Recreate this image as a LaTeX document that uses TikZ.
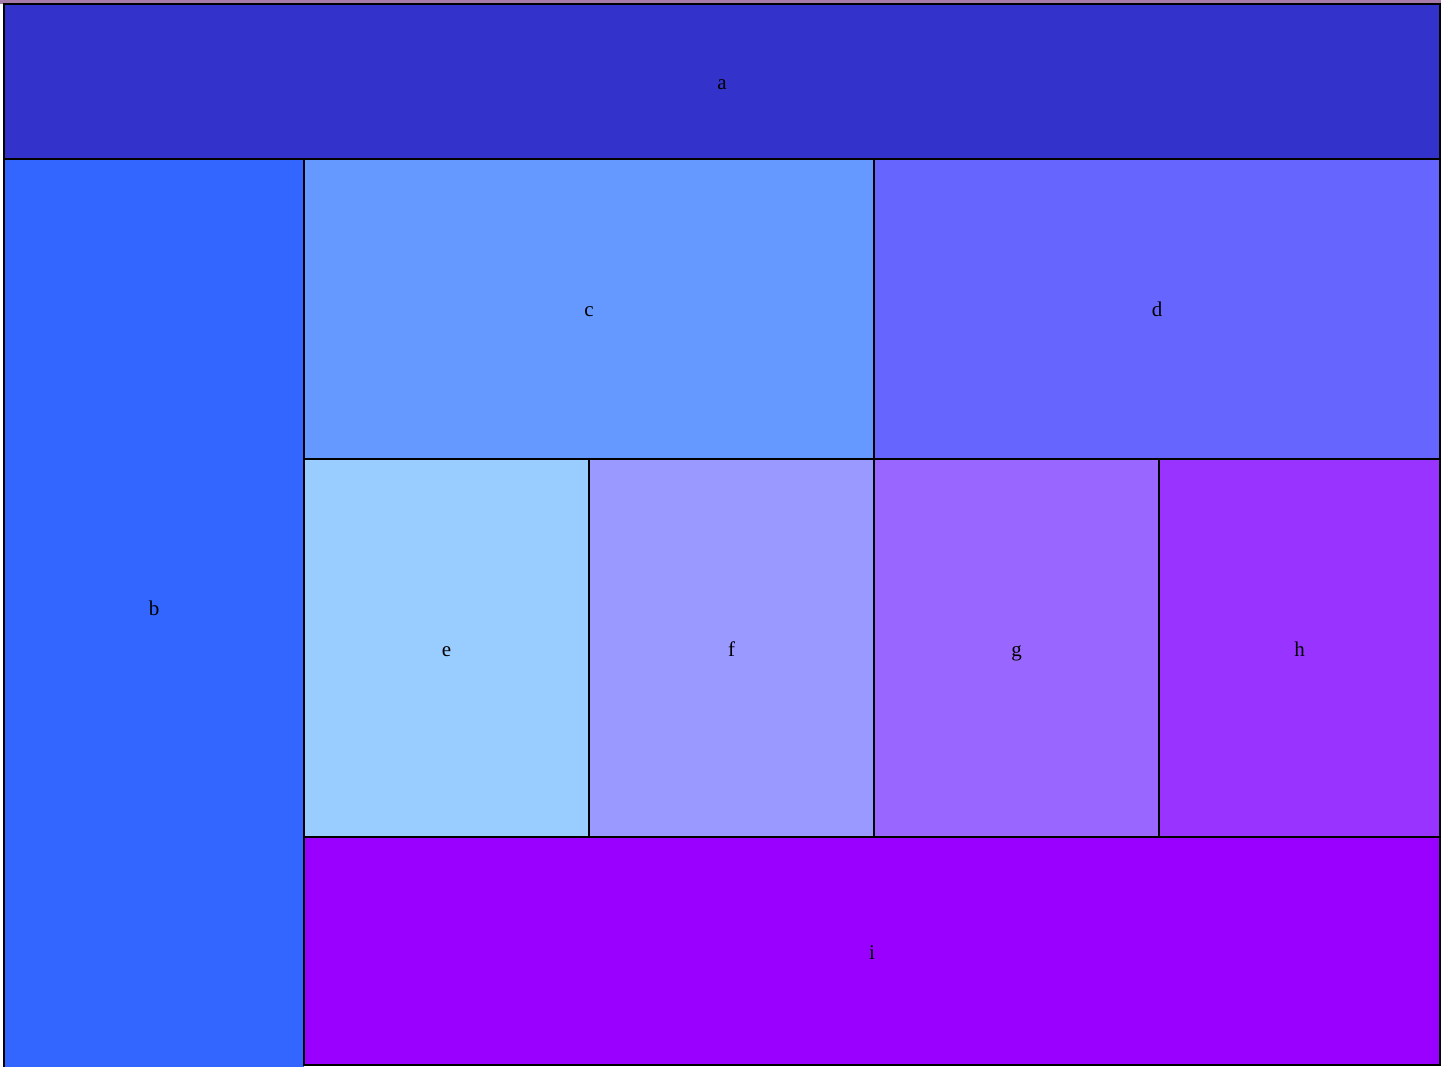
\documentclass[tikz,border=0pt]{standalone}
\usepackage{fontspec}
\setmainfont{Liberation Serif}
\definecolor{ca}{HTML}{3333CC}
\definecolor{cb}{HTML}{3366FF}
\definecolor{cc}{HTML}{6699FF}
\definecolor{cd}{HTML}{6666FF}
\definecolor{ce}{HTML}{99CCFF}
\definecolor{cf}{HTML}{9999FF}
\definecolor{cg}{HTML}{9966FF}
\definecolor{ch}{HTML}{9933FF}
\definecolor{ci}{HTML}{9900FF}
\definecolor{topstrip}{RGB}{168,124,168}
\begin{document}
\begin{tikzpicture}[x=1pt,y=-1pt,
  lbl/.style={inner sep=0pt,outer sep=0pt,font=\fontsize{21}{25}\selectfont,text height=16pt,text depth=0pt},
  cell/.style={lbl,draw=black,line width=2.6pt,rectangle}]
\useasboundingbox (0,0) rectangle (1441,1067);
\fill[topstrip] (0,0) rectangle (1441,4);
% b: extends past bottom edge
\fill[cb] (4,159) rectangle (304,1080);
\draw[line width=2.6pt] (4,159) -- (4,1080);
\node[lbl] (b) at (154,607) {b};
\node[cell,fill=ca,minimum width=1436pt,minimum height=155pt] (a) at (722,81.5) {a};
\node[cell,fill=cc,minimum width=570pt,minimum height=300pt] (c) at (589,309) {c};
\node[cell,fill=cd,minimum width=566pt,minimum height=300pt] (d) at (1157,309) {d};
\node[cell,fill=ce,minimum width=285pt,minimum height=378pt] (e) at (446.5,648) {e};
\node[cell,fill=cf,minimum width=285pt,minimum height=378pt] (f) at (731.5,648) {f};
\node[cell,fill=cg,minimum width=285pt,minimum height=378pt] (g) at (1016.5,648) {g};
\node[cell,fill=ch,minimum width=281pt,minimum height=378pt] (h) at (1299.5,648) {h};
\node[cell,fill=ci,minimum width=1136pt,minimum height=228pt] (i) at (872,951) {i};
\end{tikzpicture}
\end{document}
